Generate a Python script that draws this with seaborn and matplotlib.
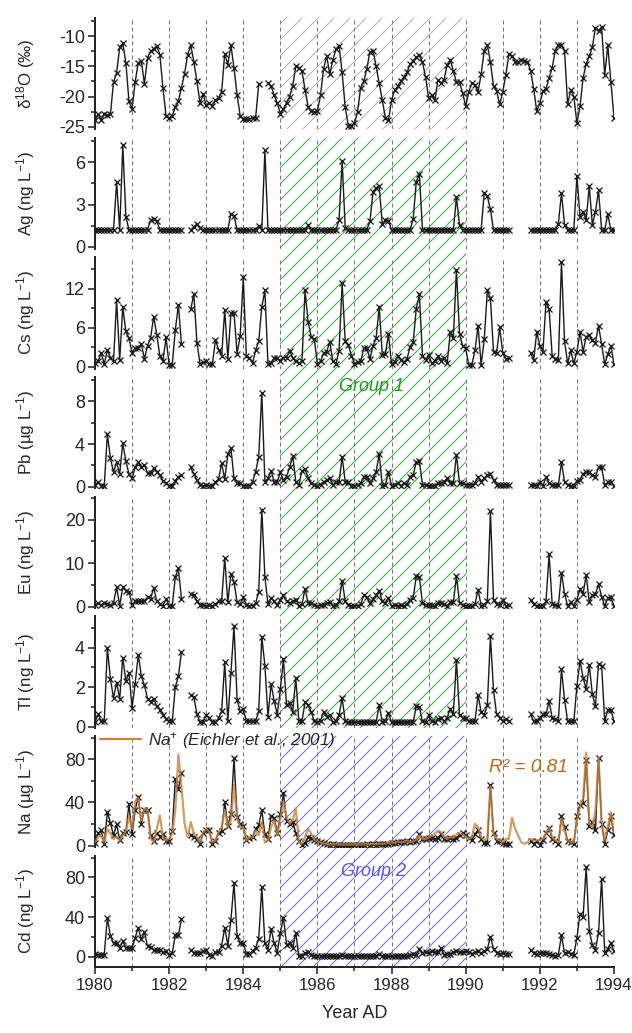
import numpy as np
import pandas as pd
import seaborn as sns
import matplotlib.pyplot as plt
from matplotlib.patches import Rectangle
from matplotlib.lines import Line2D
from matplotlib.ticker import MultipleLocator
from matplotlib.transforms import blended_transform_factory

nan = np.nan

# monthly samples, Jan 1980 .. Jan 1994
years = 1980 + np.arange(169) / 12

# --- delta 18O (gap in mid 1984) ---
d18o_a = [-23.9, -22.9, -23.9, -22.8, -23.1, -22.9, -17.6, -16.1, -11.8, -11.2, -14.4, -20.8,
          -22.1, -17.6, -14.4, -14.1, -17.9, -13.6, -12.5, -12.1, -11.6, -13.1, -18.6, -23.2,
          -23.5, -23.2, -21.7, -20.7, -18.5, -16.2, -13.1, -11.5, -14.2, -17.5, -21.1, -19.6,
          -21.4, -21.1, -21.5, -20.6, -20.2, -19.2, -12.9, -14.7, -11.5, -15.3, -19.7, -23.2,
          -23.7, -23.7, -23.7, -23.5, -23.5, -17.9]
d18o_b = [-17.7, -18.3, -19.7, -21.1, -22.8, -22.0, -21.0, -20.0, -18.2, -15.0,
          -15.2, -15.8, -18.9, -21.7, -22.4, -22.6, -22.4, -19.8, -15.4, -13.3,
          -16.3, -13.9, -12.2, -11.6, -16.0, -21.8, -24.8, -24.8, -24.4, -22.5,
          -18.5, -17.5, -15.4, -12.6, -12.4, -15.0, -17.8, -20.6, -23.5, -23.9,
          -20.6, -18.9, -18.3, -17.5, -16.8, -16.0, -14.6, -14.1, -13.5, -13.2,
          -14.3, -16.7, -20.2, -19.8, -20.6, -17.3, -17.8, -17.2, -14.8, -13.9,
          -15.8, -17.6, -17.6, -19.4, -21.6, -19.2, -17.8, -18.1, -19.2, -16.3,
          -12.4, -11.4, -14.3, -18.3, -19.1, -21.3, -19.2, -16.4, -12.9, -13.3,
          -14.2, -14.3, -13.9, -14.1, -14.2, -15.7, -18.7, -22.4, -21.0, -19.1,
          -18.7, -16.9, -15.2, -12.4, -11.4, -11.4, -12.5, -21.3, -18.9, -20.0,
          -24.4, -21.6, -16.9, -14.6, -13.3, -11.8, -8.6, -9.1, -8.5, -16.4,
          -11.5, -17.6, -23.5]

# --- trace elements: three sections (1980-82.3, 1982.6-91.2, 1991.75-94) ---
ag_a = [1.2, 1.2, 1.2, 1.2, 1.2, 1.2, 1.2, 4.6, 1.2, 7.2, 2.15, 1.2,
        1.2, 1.2, 1.2, 1.2, 1.2, 1.2, 1.9, 2.0, 1.85, 1.2, 1.2, 1.2,
        1.2, 1.2, 1.2, 1.2, 1.2]
ag_b = [1.2, 1.4, 1.65, 1.35, 1.2, 1.2, 1.2, 1.2, 1.2, 1.2, 1.2, 1.2, 1.2,
        2.35, 2.2, 1.2, 1.2, 1.2, 1.2, 1.2, 1.2, 1.2, 1.5, 1.2, 6.85,
        1.2, 1.2, 1.2, 1.2, 1.2, 1.2, 1.2, 1.2, 1.2, 1.2, 1.2, 1.2, 1.2,
        1.55, 1.2, 1.2, 1.2, 1.2, 1.2, 1.2, 1.2, 1.2, 1.2, 1.9, 6.1, 1.35,
        1.2, 1.2, 1.2, 1.2, 1.2, 1.2, 1.2, 1.8, 3.9, 4.2, 4.3, 1.6, 1.9, 1.85,
        1.2, 1.2, 1.2, 1.2, 1.2, 1.2, 1.2, 2.0, 4.6, 5.2,
        1.2, 1.2, 1.2, 1.2, 1.2, 1.2, 1.2, 1.2, 1.2, 1.2, 1.2, 3.5, 1.55,
        1.2, 1.2, 1.2, 1.2, 1.2, 1.2, 1.2, 3.85, 3.6, 2.65,
        1.2, 1.2, 1.2, 1.2, 1.2, 1.2]
ag_c = [1.2, 1.2, 1.2, 1.2, 1.2, 1.2, 1.2, 1.2, 1.2, 1.65, 3.8, 1.55, 1.2, 1.2, 1.2,
        5.05, 2.15, 2.5, 1.9, 4.3, 1.55, 2.5, 4.0, 1.2, 1.2, 2.3, 1.2, 1.2]

cs_a = [0.5, 0.8, 2.1, 0.4, 2.5, 1.4, 0.8, 10.2, 1.05, 9.2, 5.4, 4.4,
        2.1, 2.8, 2.9, 3.5, 1.2, 3.2, 4.4, 7.7, 4.9, 1.6, 0.9, 4.5,
        0.26, 0.26, 5.6, 9.5, 3.4]
cs_b = [8.8, 11.2, 3.7, 0.4, 0.7, 0.8, 0.4, 0.4, 4.1, 2.6,
        1.7, 8.7, 1.2, 8.2, 8.2, 2.0, 4.7, 13.7, 1.6, 1.4,
        0.5, 2.5, 3.9, 9.2, 11.7, 0.4, 0.5, 1.4, 1.3, 0.9,
        1.4, 1.4, 2.4, 1.4, 0.8, 0.5, 0.8, 11.7, 6.8, 4.6,
        4.2, 0.4, 0.8, 2.1, 2.3, 3.8, 0.8, 0.4, 2.4, 12.8,
        3.9, 3.3, 1.7, 0.4, 0.7, 0.8, 2.8, 2.9, 1.2, 3.2,
        4.4, 9.2, 1.8, 1.9, 5.0, 0.4, 0.7, 1.6, 1.05, 0.7,
        1.2, 3.0, 3.8, 8.9, 11.1, 1.7, 1.05, 1.8, 0.5, 0.9,
        1.6, 0.9, 1.4, 0.5, 5.3, 4.4, 14.9, 5.0, 3.2, 2.8,
        0.26, 0.26, 2.5, 6.3, 0.26, 4.2, 11.7, 10.5, 2.3, 2.1,
        6.05, 2.1, 1.2, 1.3]
cs_c = [2.1, 1.05, 5.3, 3.2, 2.3, 10.0, 8.8, 1.6, 1.2, 1.05,
        16.05, 3.9, 0.5, 2.5, 0.5, 2.3, 5.3, 2.3, 4.6, 4.9,
        4.05, 3.7, 6.3, 3.4, 0.4, 1.9, 3.2, 0.4]

pb_a = [0.2, 0.4, 0.1, 0.1, 4.9, 2.7, 1.35, 2.3, 1.2, 4.1, 2.4, 1.2,
        0.8, 1.8, 2.3, 1.8, 2.05, 1.25, 1.25, 1.75, 1.35, 1.05, 0.55, 0.3,
        0.1, 0.1, 0.55, 0.95, 1.05]
pb_b = [1.8, 1.2, 0.6, 0.2, 0.1, 0.15, 0.1, 0.1, 0.45, 0.7,
        2.2, 0.7, 3.05, 3.6, 0.8, 0.3, 0.3, 0.1, 0.1, 0.1,
        0.45, 1.4, 2.8, 8.8, 0.45, 0.8, 1.5, 0.45, 0.45, 1.35,
        0.6, 0.95, 1.8, 2.9, 0.45, 0.15, 1.5, 1.65, 0.8, 0.3,
        0.2, 0.1, 0.2, 0.45, 0.6, 0.85, 0.15, 0.45, 0.4, 2.8,
        0.45, 0.4, 0.1, 0.1, 0.2, 0.3, 0.95, 0.95, 0.3, 0.8,
        1.4, 3.05, 0.1, 0.2, 1.35, 0.1, 0.2, 0.3, 0.1, 0.3,
        0.2, 0.95, 1.1, 2.3, 2.4, 0.2, 0.15, 0.1, 0.05, 0.1,
        0.3, 0.3, 0.45, 0.8, 0.3, 0.3, 3.0, 0.3, 0.3, 0.2,
        0.2, 0.2, 0.3, 0.95, 0.45, 0.8, 1.05, 1.2, 0.6, 0.2,
        0.15, 0.15, 0.15, 0.15]
pb_c = [0.15, 0.15, 0.1, 0.45, 0.05, 0.95, 0.3, 0.2, 0.15, 0.15,
        2.3, 0.45, 0.15, 0.1, 0.1, 0.55, 0.6, 1.2, 1.4, 1.35,
        1.1, 0.95, 1.8, 1.8, 0.15, 0.4, 0.45, 0.1]

eu_a = [0.3, 0.8, 0.4, 0.8, 0.5, 0.4, 0.8, 4.5, 0.2, 4.5, 3.7, 3.4,
        0.4, 1.2, 1.2, 1.2, 1.2, 2.1, 1.8, 4.3, 1.3, 0.5, 0.2, 1.8,
        0.1, 0.1, 6.8, 8.8, 1.8]
eu_b = [2.9, 2.6, 1.2, 0.4, 0.4, 0.2, 0.4, 0.1, 0.5, 1.2,
        1.3, 11.2, 1.0, 7.6, 5.7, 1.0, 0.5, 2.1, 0.4, 0.2,
        0.2, 0.8, 3.4, 22.3, 6.8, 0.5, 2.0, 1.2, 0.4, 1.6,
        2.7, 1.2, 0.8, 1.3, 1.6, 0.2, 0.5, 4.1, 0.8, 0.8,
        0.4, 0.1, 0.4, 0.4, 0.8, 1.0, 0.2, 0.4, 1.2, 6.0,
        1.2, 0.4, 0.2, 0.1, 0.2, 0.5, 2.6, 2.1, 0.8, 1.8,
        2.6, 3.7, 1.2, 0.8, 2.0, 0.1, 0.4, 0.2, 0.4, 0.2,
        0.5, 1.6, 2.0, 7.0, 6.8, 0.8, 0.4, 0.4, 0.4, 0.2,
        0.8, 0.8, 0.5, 0.2, 1.0, 1.0, 7.0, 0.8, 0.4, 0.2,
        0.1, 0.2, 0.5, 3.9, 0.2, 0.4, 1.2, 21.9, 1.6, 0.5,
        0.4, 1.6, 0.2, 0.4]
eu_c = [1.6, 0.5, 0.1, 0.2, 0.1, 1.3, 12.0, 0.5, 0.4, 0.2,
        7.8, 2.9, 0.2, 1.0, 0.2, 1.6, 4.1, 2.9, 7.3, 1.0,
        2.7, 2.9, 5.1, 2.3, 0.1, 2.0, 2.3, 0.1]

tl_a = [0.22, 0.63, 0.26, 0.26, 4.0, 2.4, 1.46, 2.23, 1.42, 3.5, 2.3, 2.74,
        0.94, 2.18, 3.65, 2.57, 2.1, 1.42, 1.25, 1.42, 1.03, 0.86, 0.6, 0.4,
        0.26, 0.26, 2.0, 2.57, 3.77]
tl_b = [1.6, 1.5, 0.63, 0.22, 0.22, 0.6, 0.46, 0.22, 0.22, 0.43,
        0.8, 3.26, 0.26, 2.7, 5.1, 1.37, 0.77, 0.9, 0.26, 0.26,
        0.26, 0.26, 0.77, 4.55, 3.1, 0.51, 2.14, 1.32, 0.6, 1.89,
        3.43, 1.08, 1.2, 0.74, 2.45, 0.26, 0.26, 1.25, 1.08, 0.74,
        0.26, 0.22, 0.29, 0.74, 0.51, 0.57, 0.22, 0.26, 0.57, 1.46,
        0.26, 0.22, 0.22, 0.22, 0.22, 0.22, 0.22, 0.22, 0.22, 0.22,
        0.22, 1.1, 0.22, 0.29, 0.69, 0.22, 0.22, 0.22, 0.22, 0.22,
        0.22, 0.22, 0.22, 1.03, 0.98, 0.26, 0.22, 0.57, 0.26, 0.22,
        0.4, 0.46, 0.26, 0.46, 0.9, 0.63, 3.38, 0.57, 0.46, 0.46,
        0.26, 0.26, 0.26, 1.6, 0.74, 0.6, 1.08, 4.58, 1.84, 0.63,
        0.46, 0.26, 0.4, 0.26]
tl_c = [0.63, 0.26, 0.26, 0.46, 0.63, 0.63, 1.29, 0.43, 0.4, 0.29,
        2.92, 1.37, 0.26, 0.26, 0.26, 2.06, 3.34, 2.49, 1.89, 3.14,
        1.63, 1.03, 3.2, 3.1, 0.26, 0.86, 0.86, 0.26]

na_a = [2.0, 11.5, 14.0, 1.5, 31.0, 21.0, 9.4, 19.7, 5.3, 11.5, 12.5, 38.4,
        10.3, 32.8, 45.3, 20.3, 33.4, 33.4, 9.4, 4.7, 11.5, 8.4, 10.3, 4.7,
        4.7, 13.4, 61.6, 52.2, 67.2]
na_b = [9.4, 7.8, 6.25, 1.6, 11.5, 14.7, 14.0, 1.6, 4.7, 11.5,
        13.4, 40.6, 17.8, 29.0, 81.2, 26.6, 20.3, 17.8, 5.3, 7.2,
        7.8, 15.6, 18.8, 32.8, 10.3, 6.25, 27.2, 25.9, 11.5, 29.0,
        49.0, 22.8, 19.7, 21.9, 11.5, 4.0, 1.0, 2.2, 7.8, 7.2,
        5.3, 4.0, 3.1, 2.2, 1.6, 0.9, 1.2, 1.0, 1.0, 0.8,
        1.0, 0.8, 1.0, 0.8, 1.0, 0.9, 1.0, 1.1, 0.9, 1.2,
        1.0, 1.5, 1.2, 1.5, 1.8, 2.2, 2.2, 3.1, 3.1, 3.1,
        4.0, 3.1, 4.0, 4.7, 10.3, 6.25, 6.25, 7.2, 7.2, 6.25,
        7.2, 10.3, 6.25, 6.25, 7.2, 6.25, 7.2, 9.4, 11.5, 9.4,
        7.2, 5.3, 10.3, 14.7, 6.25, 2.2, 2.2, 56.25, 11.5, 4.7,
        4.0, 2.2, 1.6, 1.6]
na_c = [4.0, 1.6, 4.0, 0.9, 5.3, 11.5, 16.6, 6.25, 4.7, 1.6,
        27.2, 17.2, 4.0, 3.1, 1.6, 27.2, 37.5, 39.7, 79.7, 17.8,
        21.9, 14.0, 81.2, 20.3, 1.6, 14.0, 27.2, 9.4]

# Na+ from Eichler et al. (2001), continuous record
na_eichler = [3.0, 8.0, 9.4, 3.0, 15.6, 11.0, 6.0, 8.4, 4.7, 9.4, 13.4, 26.6,
              15.6, 40.6, 43.8, 23.4, 34.4, 33.4, 6.25, 3.0, 15.6, 28.0, 7.8, 4.7,
              6.25, 11.0, 32.8, 84.4, 54.7, 20.3, 7.8, 21.9, 11.0, 7.8, 3.0, 12.5,
              15.6, 12.5, 3.0, 4.7, 12.5, 17.2, 32.8, 17.2, 23.4, 56.25, 25.0, 17.2,
              17.2, 4.7, 7.8, 7.8, 14.0, 9.4, 21.9, 3.0, 4.7, 17.2, 23.4, 9.4,
              25.0, 40.6, 26.6, 20.3, 23.4, 34.4, 3.0, 1.6, 7.8, 15.6, 11.0, 5.3,
              4.0, 3.0, 2.2, 1.6, 0.9, 1.3, 1.2, 1.0, 1.0, 1.2, 1.0, 1.1,
              1.0, 1.2, 1.0, 1.2, 1.4, 1.2, 1.5, 1.2, 1.8, 1.6, 2.0, 2.4,
              3.0, 2.2, 4.0, 3.1, 3.1, 4.7, 3.0, 4.0, 5.3, 9.4, 6.25, 6.25,
              7.2, 9.4, 11.0, 14.0, 12.5, 7.8, 6.25, 7.8, 7.2, 10.3, 11.5, 10.3,
              8.4, 6.25, 7.8, 20.3, 17.2, 7.8, 4.7, 6.25, 54.7, 11.0, 6.25, 4.7,
              3.0, 6.25, 6.25, 25.9, 15.6, 9.4, 3.0, 1.6, 3.0, 6.25, 4.7, 4.7,
              5.3, 6.25, 11.0, 17.2, 7.8, 4.7, 3.0, 25.0, 14.0, 4.7, 3.0, 3.0,
              23.4, 36.0, 43.8, 86.0, 20.3, 17.2, 32.8, 81.2, 21.9, 4.7, 17.2, 31.25,
              12.5]

cd_a = [3.4, 2.4, 2.4, 2.4, 39.7, 21.0, 13.6, 13.6, 9.2, 15.9, 9.2, 9.2,
        9.2, 19.3, 29.5, 17.6, 25.1, 10.8, 10.2, 6.8, 6.8, 6.8, 4.7, 5.8,
        2.4, 4.1, 21.7, 21.7, 38.6]
cd_b = [6.8, 4.1, 4.1, 4.1, 5.8, 7.5, 2.4, 1.4, 4.7, 4.7,
        11.5, 29.5, 11.5, 37.3, 74.6, 21.0, 13.6, 13.6, 3.4, 3.4,
        5.8, 9.2, 18.3, 70.2, 13.6, 7.5, 28.5, 13.6, 4.1, 24.4,
        39.7, 12.5, 13.6, 9.2, 24.4, 0.7, 1.4, 4.1, 4.7, 2.4,
        1.4, 1.0, 1.0, 0.7, 1.0, 0.7, 1.0, 0.7, 1.0, 2.0,
        1.0, 0.7, 1.0, 0.7, 1.0, 0.7, 1.0, 1.4, 1.0, 0.7,
        1.0, 3.0, 1.0, 0.7, 1.0, 0.7, 1.4, 1.0, 1.4, 1.0,
        1.4, 2.0, 3.0, 2.4, 8.1, 4.1, 4.7, 4.1, 5.8, 4.7,
        4.7, 8.8, 2.4, 3.4, 3.4, 4.7, 5.8, 4.7, 4.7, 5.8,
        4.7, 3.4, 4.7, 5.8, 4.1, 5.8, 8.1, 20.3, 8.1, 4.1,
        3.4, 4.1, 3.4, 3.4]
cd_c = [6.8, 4.1, 3.4, 4.1, 4.1, 4.1, 3.4, 2.4, 1.4, 2.4,
        21.7, 4.1, 4.7, 3.4, 2.4, 19.3, 43.0, 40.7, 90.5, 26.1,
        12.5, 7.5, 24.4, 78.6, 4.1, 8.1, 14.2, 5.8]

ylabels = [r'δ$^{18}$O (‰)', r'Ag (ng L$^{-1}$)', r'Cs (ng L$^{-1}$)',
           r'Pb (µg L$^{-1}$)', r'Eu (ng L$^{-1}$)', r'Tl (ng L$^{-1}$)',
           r'Na (µg L$^{-1}$)', r'Cd (ng L$^{-1}$)']


def stitch(a, b, c):
    # no samples in mid 1982 and mid 1991
    return np.r_[a, [nan] * 2, b, [nan] * 6, c]


series = [np.r_[d18o_a, [nan] * 2, d18o_b],
          stitch(ag_a, ag_b, ag_c),
          stitch(cs_a, cs_b, cs_c),
          stitch(pb_a, pb_b, pb_c),
          stitch(eu_a, eu_b, eu_c),
          stitch(tl_a, tl_b, tl_c),
          stitch(na_a, na_b, na_c),
          stitch(cd_a, cd_b, cd_c)]

ylims = [(-25.4, -7.0), (-0.15, 7.75), (-0.3, 16.8), (-0.15, 10.3),
         (-0.3, 25.3), (-0.05, 5.6), (-1.5, 101.5), (-10, 102)]
majors = [5, 3, 6, 4, 10, 2, 40, 40]

sns.set_theme(style='ticks')
plt.rcParams['font.family'] = ['Liberation Sans', 'DejaVu Sans']
plt.rcParams['mathtext.fontset'] = 'custom'
plt.rcParams['mathtext.rm'] = 'Liberation Sans'
plt.rcParams['mathtext.it'] = 'Liberation Sans:italic'
plt.rcParams['axes.unicode_minus'] = False
plt.rcParams['hatch.linewidth'] = 0.8

DPI = 96
PX = 72 / DPI  # points per pixel

fig, axes = plt.subplots(8, 1, sharex=True, figsize=(632 / DPI, 1033 / DPI), dpi=DPI,
                         gridspec_kw=dict(hspace=0.0755))
fig.subplots_adjust(left=0.1503, right=0.9715, top=0.9826, bottom=0.064)

orange = '#c8823a'
green = '#3cb43c'
blue = '#7070ff'


def trace(ax, y):
    df = pd.DataFrame({'year': years, 'val': y})
    df['seg'] = df['val'].isna().cumsum()
    df = df.dropna()
    sns.lineplot(data=df, x='year', y='val', units='seg', estimator=None, ax=ax,
                 color='k', lw=1.4 * PX, marker='x', ms=5.5 * PX, mec='k', mew=1.3 * PX,
                 legend=False, zorder=3)


for i, ax in enumerate(axes):
    ax.set_facecolor('none')
    for yr in range(1981, 1994):
        ax.axvline(yr, color='#777777', lw=1.0 * PX, ls=(0, (4, 3)), zorder=1)
    trace(ax, series[i])
    ax.set_xlim(1980, 1994)
    ax.set_ylim(*ylims[i])
    ax.yaxis.set_major_locator(MultipleLocator(majors[i]))
    ax.yaxis.set_minor_locator(MultipleLocator(majors[i] / 2))
    ax.set_ylabel(ylabels[i], fontsize=17 * PX)
    ax.yaxis.set_label_coords(-0.112, 0.5)
    ax.set_xlabel('')
    for s in ['top', 'right', 'bottom']:
        ax.spines[s].set_visible(False)
    ax.spines['left'].set_linewidth(2 * PX)
    ax.tick_params(axis='y', which='major', direction='out', length=7 * PX, width=1.6 * PX,
                   labelsize=18 * PX, pad=3 * PX)
    ax.tick_params(axis='y', which='minor', direction='out', length=4 * PX, width=1.6 * PX)
    if i < 7:
        ax.tick_params(axis='x', which='both', bottom=False, labelbottom=False)

# bottom axis
ax8 = axes[-1]
ax8.spines['bottom'].set_visible(True)
ax8.spines['bottom'].set_linewidth(2 * PX)
ax8.xaxis.set_major_locator(MultipleLocator(2))
ax8.xaxis.set_minor_locator(MultipleLocator(1))
ax8.tick_params(axis='x', which='major', direction='out', length=7 * PX, width=1.6 * PX,
                labelsize=16.8 * PX, pad=4 * PX)
ax8.tick_params(axis='x', which='minor', direction='out', length=4 * PX, width=1.6 * PX)
ax8.set_xlabel('Year AD', fontsize=18 * PX, labelpad=12 * PX)

# hatched periods
axes[0].axvspan(1985, 1990, facecolor='none', edgecolor='#b4b4b4', hatch='//', lw=0, zorder=0)
tr = blended_transform_factory(ax8.transData, fig.transFigure)
p2, p6 = axes[1].get_position(), axes[5].get_position()
p7, p8 = axes[6].get_position(), axes[7].get_position()
fig.add_artist(Rectangle((1985, p6.y0), 5, p2.y1 - p6.y0, transform=tr, facecolor='none',
                         edgecolor=green, hatch='//', lw=0, zorder=-1))
fig.add_artist(Rectangle((1985, p8.y0), 5, p7.y1 - p8.y0, transform=tr, facecolor='none',
                         edgecolor=blue, hatch='//', lw=0, zorder=-1))

# Na+ reference record
sns.lineplot(x=years, y=na_eichler, ax=axes[6], color=orange, lw=2.2 * PX, alpha=0.8, zorder=4)
axes[6].legend([Line2D([], [], color=orange, lw=2.2 * PX)], ['Na$^{+}$ (Eichler et al., 2001)'],
               loc='upper left', bbox_to_anchor=(0.01, 1.055), frameon=False,
               prop={'style': 'italic', 'size': 17 * PX}, handlelength=2.4,
               handletextpad=0.4, borderaxespad=0, borderpad=0)
axes[6].text(1991.7, 72, 'R² = 0.81', color='#c0651a', style='italic', fontsize=19 * PX,
             ha='center', va='center')
axes[3].text(1987.45, 9.4, 'Group 1', color='#1a9a1a', style='italic', fontsize=18 * PX,
             ha='center', va='center')
axes[7].text(1987.5, 86, 'Group 2', color='#5555ee', style='italic', fontsize=18 * PX,
             ha='center', va='center')

fig.savefig('out.png', dpi=DPI)
